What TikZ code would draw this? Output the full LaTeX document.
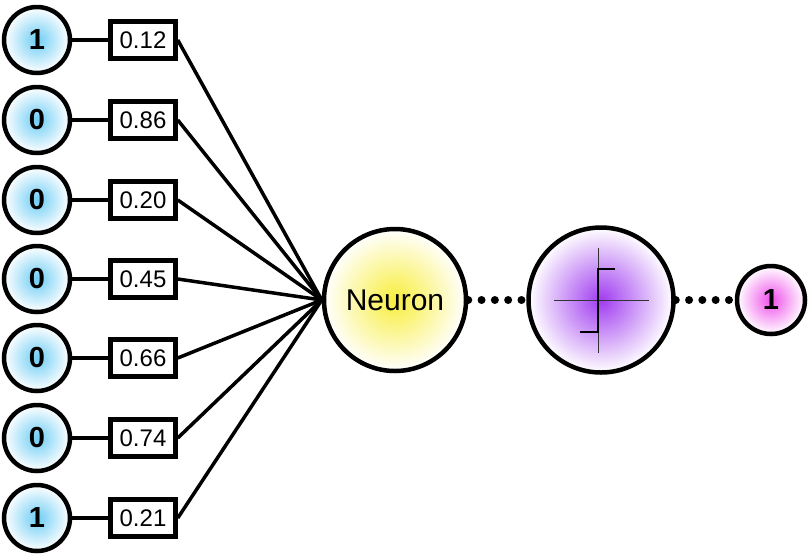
\documentclass[tikz,border=0pt]{standalone}
\usepackage{fontspec}
\setmainfont{Liberation Sans}
\begin{document}
\begin{tikzpicture}[x=1pt,y=-1pt,
  inp/.style={circle,draw=black,line width=4.5pt,minimum size=66pt,inner sep=0pt,
    shading=radial,inner color={rgb,255:red,110;green,205;blue,245},outer color=white,
    font=\fontsize{29}{32}\selectfont\bfseries},
  wbox/.style={rectangle,draw=black,line width=4.5pt,minimum width=65pt,minimum height=37pt,
    inner sep=0pt,fill=white,font=\fontsize{24}{26}\selectfont},
  conn/.style={line width=3.5pt},
  dots/.style={line width=8pt,line cap=round,dash pattern=on 0pt off 13.3pt},
  big/.style={circle,draw=black,line width=4.5pt,minimum size=142pt,inner sep=0pt}]
\useasboundingbox (0,0) rectangle (810,558);
\node[big,shading=radial,inner color={rgb,255:red,248;green,238;blue,60},outer color=white,
  font=\fontsize{30}{32}\selectfont] (neuron) at (395,300) {Neuron};
\node[big,minimum size=145pt,shading=radial,inner color={rgb,255:red,160;green,60;blue,240},outer color=white] (act) at (601,300) {};
\node[circle,draw=black,line width=4.5pt,minimum size=68pt,inner sep=0pt,
  shading=radial,inner color={rgb,255:red,240;green,80;blue,235},outer color=white,
  font=\fontsize{29}{32}\selectfont\bfseries] (out) at (771,300) {1};
\foreach \i/\v/\w/\y in {1/1/0.12/40,2/0/0.86/120,3/0/0.20/200,4/0/0.45/279,5/0/0.66/358,6/0/0.74/438,7/1/0.21/518}{
  \node[inp] (in\i) at (37,\y) {\v};
  \node[wbox] (w\i) at (143,\y) {\w};
  \draw[conn] (in\i.east) -- (w\i.west);
  \draw[conn] (w\i.east) -- (neuron.west);
}
\draw[dots] (neuron.east) -- (act.west);
\draw[dots] (act.east) -- (out.west);
\coordinate (vt) at (598,248);
\coordinate (vb) at (598,353);
\coordinate (hl) at (554,300);
\coordinate (hr) at (649,300);
\draw[line width=1pt,black!80] (vt) -- (vb);
\draw[line width=1pt,black!80] (hl) -- (hr);
\coordinate (s1) at (580,332);
\coordinate (s2) at (598,332);
\coordinate (s3) at (598,269);
\coordinate (s4) at (615,269);
\draw[line width=2pt] (s1) -- (s2) -- (s3) -- (s4);
\end{tikzpicture}
\end{document}
